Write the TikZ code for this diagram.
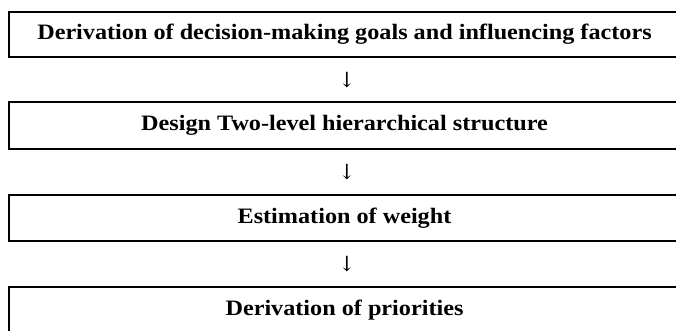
\documentclass[tikz,border=0pt]{standalone}
\usepackage{fontspec}
\setmainfont{Liberation Serif}
\newfontfamily\stagefont[FakeStretch=1.1]{Liberation Serif}
\newfontfamily\arrowfont{DejaVu Serif}

\tikzset{
  stage/.style={draw=black, line width=2.6pt, rectangle, inner sep=0pt,
    minimum width=671pt, font=\stagefont\fontsize{22}{24}\selectfont\bfseries},
  flowmark/.style={inner sep=0pt, font=\fontsize{21}{24}\selectfont\arrowfont}
}

\begin{document}
\begin{tikzpicture}[x=1pt, y=1pt]
  \useasboundingbox (0,0) rectangle (676,-330);
  \clip (0,0) rectangle (676,-330);

  % process stages, top to bottom
  \node[stage, minimum height=45pt] (s1) at (344.5,-34.5)
    {Derivation of decision-making goals and influencing factors};
  \node[stage, minimum height=47pt] (s2) at (344.5,-125.5)
    {Design Two-level hierarchical structure};
  \node[stage, minimum height=46pt] (s3) at (344.5,-218)
    {Estimation of weight};
  \node[stage, minimum height=46pt] (s4) at (344.5,-310)
    {Derivation of priorities};

  % downward marks between the stages
  \node[flowmark] (a1) at (347,-80) {↓};
  \node[flowmark] (a2) at (347,-172) {↓};
  \node[flowmark] (a3) at (347,-264) {↓};
\end{tikzpicture}
\end{document}
